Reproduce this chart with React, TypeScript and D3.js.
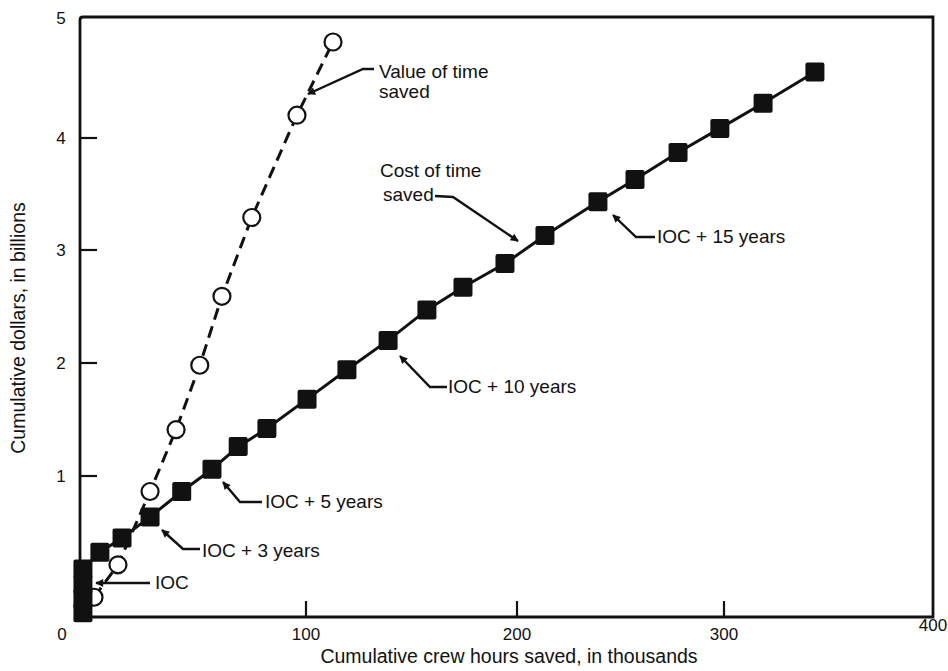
import React from 'react';
import * as d3 from 'd3';

// ---------- data ----------
const X_TICKS = [0, 100, 200, 300, 400];
const Y_TICKS = [0, 1, 2, 3, 4, 5];

// Cost of time saved (filled squares), one per year
const costHours = [1.3, 1.3, 1.3, 1.3, 8.8, 18.6, 31, 45, 58.4, 70, 82.7, 100.5, 119.4, 138.9, 157.3, 174.4, 194.3, 213.5, 239.1, 257, 277.8, 298, 318.7, 343.5];
const costDollars = [0.03, 0.13, 0.23, 0.34, 0.46, 0.56, 0.71, 0.89, 1.06, 1.26, 1.42, 1.68, 1.94, 2.2, 2.47, 2.67, 2.88, 3.13, 3.43, 3.63, 3.87, 4.08, 4.29, 4.55];

// Value of time saved (open circles)
const valueHours = [6.2, 16.8, 31, 42.5, 53, 62.8, 76, 96, 112.8];
const valueDollars = [0.14, 0.37, 0.89, 1.41, 1.98, 2.59, 3.29, 4.19, 4.8];

const X_TITLE = 'Cumulative crew hours saved, in thousands';
const Y_TITLE = 'Cumulative dollars, in billions';

// ---------- layout ----------
const W = 948;
const H = 671;
const X_RANGE = [80, 306, 517, 724, 933];
const Y_RANGE = [617, 476, 363, 250, 138, 18];
const FONT = '"Liberation Sans", Arial, Helvetica, sans-serif';
const INK = '#111';

type Ann = { lines: string[]; tx: number[]; ty: number[]; path: [number, number][] };
const ANNOTATIONS: Ann[] = [
  { lines: ['Value of time', 'saved'], tx: [379, 379], ty: [78, 98], path: [[374, 69], [363, 69], [308, 94]] },
  { lines: ['Cost of time', 'saved'], tx: [380, 383], ty: [177, 201], path: [[435, 196], [453, 197], [518, 241]] },
  { lines: ['IOC + 15 years'], tx: [657], ty: [243], path: [[655, 237], [636, 237], [613, 215]] },
  { lines: ['IOC + 10 years'], tx: [448], ty: [393], path: [[447, 387], [430, 387], [400, 356]] },
  { lines: ['IOC + 5 years'], tx: [265], ty: [508], path: [[262, 502], [240, 502], [223, 482]] },
  { lines: ['IOC + 3 years'], tx: [202], ty: [557], path: [[200, 549], [183, 549], [162, 530]] },
  { lines: ['IOC'], tx: [155], ty: [589], path: [[150, 583], [96, 583]] },
];

export default function App() {
  const x = d3.scaleLinear().domain(X_TICKS).range(X_RANGE);
  const y = d3.scaleLinear().domain(Y_TICKS).range(Y_RANGE);

  const cost = costHours.map((h, i) => [h, costDollars[i]] as [number, number]);
  const value = valueHours.map((h, i) => [h, valueDollars[i]] as [number, number]);

  const line = d3
    .line<[number, number]>()
    .x((d) => x(d[0]))
    .y((d) => y(d[1]));

  const leader = d3.line<[number, number]>();

  const left = x(0);
  const right = x(400);
  const top = 17;
  const bottom = y(0);

  return (
    <svg
      width={W}
      height={H}
      viewBox={`0 0 ${W} ${H}`}
      style={{ position: 'absolute', left: 0, top: 0, background: '#fff' }}
      fontFamily={FONT}
    >
      <defs>
        <marker
          id="arrow"
          viewBox="0 0 10 10"
          refX={9}
          refY={5}
          markerUnits="userSpaceOnUse"
          markerWidth={12}
          markerHeight={8}
          orient="auto"
        >
          <path d="M0,0 L10,5 L0,10 Z" fill={INK} />
        </marker>
      </defs>
      <rect x={0} y={0} width={W} height={H} fill="#fff" />

      {/* frame */}
      <path
        d={`M${left},${bottom} L${left},${top + 3} Q${left},${top} ${left + 3},${top} L${right},${top} L${right},${bottom} Z`}
        fill="none"
        stroke={INK}
        strokeWidth={2.8}
      />

      {/* inner ticks */}
      {X_TICKS.filter((t) => t > 0 && t < 400).map((t) => (
        <line key={'xt' + t} x1={x(t)} x2={x(t)} y1={bottom} y2={bottom - 16} stroke={INK} strokeWidth={2.2} />
      ))}
      {Y_TICKS.filter((t) => t > 0 && t < 5).map((t) => (
        <line key={'yt' + t} x1={left} x2={left + 17} y1={y(t)} y2={y(t)} stroke={INK} strokeWidth={2.2} />
      ))}

      {/* tick labels */}
      <text x={62} y={640} fontSize={17} textAnchor="middle" fill={INK}>0</text>
      {X_TICKS.filter((t) => t > 0).map((t) => (
        <text key={'xl' + t} x={x(t)} y={t === 400 ? 631 : 640} fontSize={17} textAnchor="middle" fill={INK}>
          {t}
        </text>
      ))}
      {Y_TICKS.filter((t) => t > 0).map((t) => (
        <text key={'yl' + t} x={61} y={y(t)} dy="0.36em" fontSize={17} textAnchor="middle" fill={INK}>
          {t}
        </text>
      ))}

      {/* axis titles */}
      <text x={509} y={663} fontSize={19.5} textAnchor="middle" fill={INK}>
        {X_TITLE}
      </text>
      <text
        transform={`translate(25,328) rotate(-90)`}
        fontSize={19.5}
        textAnchor="middle"
        fill={INK}
      >
        {Y_TITLE}
      </text>

      {/* value of time saved: dashed line + open circles */}
      <path d={line(value) || ''} fill="none" stroke={INK} strokeWidth={3} strokeDasharray="12 7" />
      {value.map((d, i) => (
        <circle key={'v' + i} cx={x(d[0])} cy={y(d[1])} r={8.5} fill="#fff" stroke={INK} strokeWidth={2.2} />
      ))}

      {/* cost of time saved: solid line + filled squares */}
      <path d={line(cost) || ''} fill="none" stroke={INK} strokeWidth={3} />
      {cost.map((d, i) => (
        <rect
          key={'c' + i}
          x={x(d[0]) - 9.5}
          y={y(d[1]) - 9.5}
          width={19}
          height={19}
          rx={2}
          fill={INK}
        />
      ))}

      {/* annotations */}
      {ANNOTATIONS.map((a, i) => (
        <g key={'a' + i}>
          <path d={leader(a.path) || ''} fill="none" stroke={INK} strokeWidth={2.4} markerEnd="url(#arrow)" />
          {a.lines.map((l, j) => (
            <text key={j} x={a.tx[j]} y={a.ty[j]} fontSize={19} fill={INK}>
              {l}
            </text>
          ))}
        </g>
      ))}
    </svg>
  );
}
